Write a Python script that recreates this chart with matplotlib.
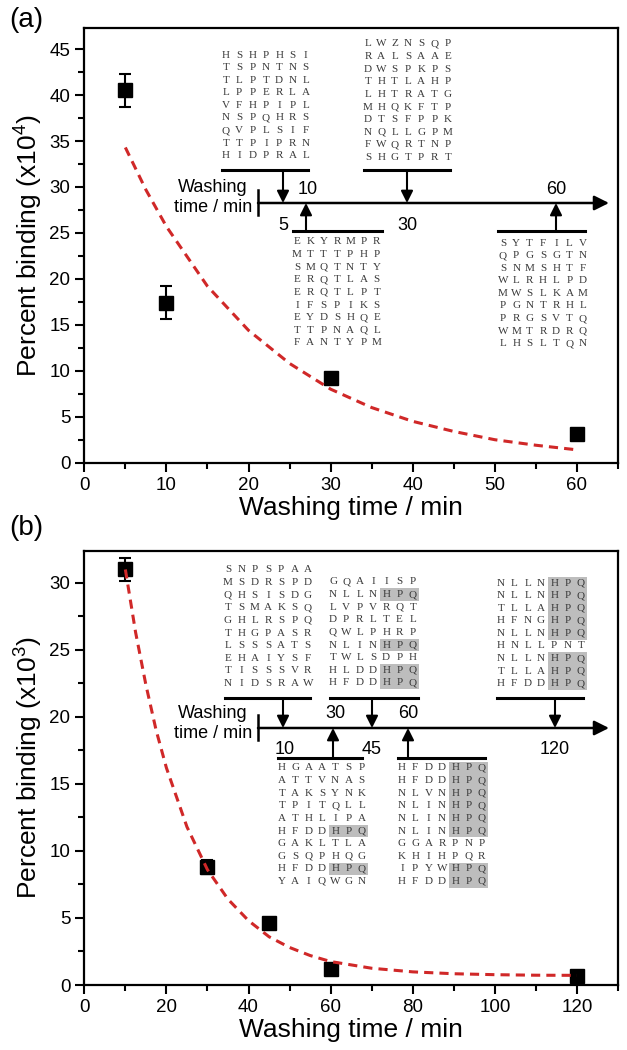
import matplotlib
matplotlib.use("Agg")
import matplotlib.pyplot as plt
import matplotlib.transforms as mtransforms
from matplotlib.patches import Rectangle, FancyArrowPatch
from matplotlib.lines import Line2D

plt.rcParams['font.family'] = ['Liberation Sans', 'DejaVu Sans']
plt.rcParams['mathtext.fontset'] = 'custom'
plt.rcParams['mathtext.rm'] = 'Liberation Sans'
plt.rcParams['mathtext.it'] = 'Liberation Sans'

# ---- panel (a) data ----
a_time = [5, 10, 30, 60]
a_binding = [40.5, 17.4, 9.2, 3.1]
a_err = [1.8, 1.8, 0.5, 0.6]
a_fit_time = [5, 7.5, 10, 15, 20, 25, 30, 35, 40, 45, 50, 55, 60]
a_fit_binding = [34.3, 29.7, 25.7, 19.2, 14.4, 10.8, 8.0, 6.0, 4.5, 3.4, 2.5, 1.9, 1.4]

# ---- panel (b) data ----
b_time = [10, 30, 45, 60, 120]
b_binding = [31.0, 8.8, 4.6, 1.2, 0.7]
b_err = [0.85, 0.5, 0.3, 0.3, 0.3]
b_fit_time = [10, 12.5, 15, 17.5, 20, 25, 30, 35, 40, 45, 50, 55, 60, 70, 80, 90, 100, 110, 120]
b_fit_binding = [31.0, 26.3, 22.4, 19.0, 16.2, 11.8, 8.6, 6.4, 4.8, 3.6, 2.8, 2.2, 1.75,
                 1.25, 0.98, 0.84, 0.77, 0.73, 0.72]

# ---- peptide sequences ----
a_seq_5 = ["HSHPHSI", "TSPNTNS", "TLPTDNL", "LPPERLA", "VFHPIPL",
           "NSPQHRS", "QVPLSIF", "TTPIPRN", "HIDPRAL"]
a_seq_10 = ["EKYRMPR", "MTTTPHP", "SMQTNTY", "ERQTLAS", "ERQTLPT",
            "IFSPIKS", "EYDSHQE", "TTPNAQL", "FANTYPM"]
a_seq_30 = ["LWZNSQP", "RALSAAE", "DWSPKPS", "THTLAHP", "LHTRATG",
            "MHQKFTP", "DTSFPPK", "NQLLGPM", "FWQRTNP", "SHGTPRT"]
a_seq_60 = ["SYTFILV", "QPGSGTN", "SNMSHTF", "WLRHLPD", "MWSLKAM",
            "PGNTRHL", "PRGSVTQ", "WMTRDRQ", "LHSLTQN"]

b_seq_10 = ["SNPSPAA", "MSDRSPD", "QHSISDG", "TSMAKSQ", "GHLRSPQ",
            "THGPASR", "LSSSATS", "EHAIYSF", "TISSSVR", "NIDSRAW"]
b_seq_30 = ["HGAATSP", "ATTVNAS", "TAKSYNK", "TPITQLL", "ATHLIPA",
            "HFDDHPQ", "GAKLTLA", "GSQPHQG", "HFDDHPQ", "YAIQWGN"]
b_seq_45 = ["GQAIISP", "NLLNHPQ", "LVPVRQT", "DPRLTEL", "QWLPHRP",
            "NLINHPQ", "TWLSDPH", "HLDDHPQ", "HFDDHPQ"]
b_seq_60 = ["HFDDHPQ", "HFDDHPQ", "NLVNHPQ", "NLINHPQ", "NLINHPQ",
            "NLINHPQ", "GGARPNP", "KHIHPQR", "IPYWHPQ", "HFDDHPQ"]
b_seq_120 = ["NLLNHPQ", "NLLNHPQ", "TLLAHPQ", "HFNGHPQ", "NLLNHPQ",
             "HNLLPNT", "NLLNHPQ", "TLLAHPQ", "HFDDHPQ"]
motif = "HPQ"

W, H = 627, 1050
fig = plt.figure(figsize=(W / 100, H / 100), dpi=100)
# transform for placing the schematic in figure pixels (origin top-left)
px = mtransforms.Affine2D().scale(1 / W, -1 / H).translate(0, 1) + fig.transFigure

red = '#d02828'
DX, DY = 13.3, 12.6


def style_axes(ax, xmaj, xmin, ymaj, ymin):
    for s in ax.spines.values():
        s.set_linewidth(1.6)
    ax.xaxis.set_major_locator(plt.MultipleLocator(xmaj))
    ax.xaxis.set_minor_locator(plt.MultipleLocator(xmin))
    ax.yaxis.set_major_locator(plt.MultipleLocator(ymaj))
    ax.yaxis.set_minor_locator(plt.MultipleLocator(ymin))
    ax.tick_params(which='major', direction='out', length=6.5, width=1.5, labelsize=13.5)
    ax.tick_params(which='minor', direction='out', length=4, width=1.5)
    ax.tick_params(top=False, right=False, which='both')


def block(rows, x0, y0, highlight=False):
    for i, row in enumerate(rows):
        y = y0 + i * DY
        if highlight and row.endswith(motif):
            k = len(row) - len(motif)
            fig.add_artist(Rectangle((x0 + (k - 0.5) * DX, y - DY / 2), len(motif) * DX, DY,
                                     transform=px, facecolor='#bdbdbd', edgecolor='none', zorder=1))
        for j, ch in enumerate(row):
            fig.text(x0 + j * DX, y, ch, transform=px, ha='center', va='center',
                     family='Liberation Serif', fontsize=8, color='#3a3a3a', zorder=2)


def bar(xa, xb, y):
    fig.add_artist(Line2D([xa, xb], [y, y], transform=px, color='k', lw=2.2))


def arrow(x, y_from, y_to):
    fig.add_artist(FancyArrowPatch((x, y_from), (x, y_to), transform=px, arrowstyle='-|>',
                                   mutation_scale=18, lw=1.5, color='k', shrinkA=0, shrinkB=0))


def timeline(y, labels_up, labels_down):
    fig.text(213, y - 15, "Washing", transform=px, ha='center', va='center', fontsize=13)
    fig.text(213, y + 5, "time / min", transform=px, ha='center', va='center', fontsize=13)
    fig.add_artist(Line2D([258, 258], [y - 13, y + 12], transform=px, color='k', lw=1.8))
    fig.add_artist(FancyArrowPatch((258, y), (609, y), transform=px, arrowstyle='-|>',
                                   mutation_scale=22, lw=1.8, color='k', shrinkA=0, shrinkB=0))
    for x, t in labels_up:
        fig.text(x, y - 14, t, transform=px, ha='center', va='center', fontsize=13)
    for x, t in labels_down:
        fig.text(x, y + 22, t, transform=px, ha='center', va='center', fontsize=13)


# ---------------- panel (a) ----------------
ax_a = fig.add_axes([84.3 / W, 1 - 462.7 / H, (618 - 84.3) / W, (462.7 - 28) / H])
ax_a.errorbar(a_time, a_binding, yerr=a_err, fmt='s', color='k', ms=10, capsize=4.5,
              elinewidth=1.5, capthick=1.5, zorder=3)
ax_a.plot(a_fit_time, a_fit_binding, color=red, lw=2.2, linestyle=(0, (3, 2)), zorder=4)
ax_a.set_xlim(0, 65)
ax_a.set_ylim(0, 47.3)
style_axes(ax_a, 10, 5, 5, 2.5)
ax_a.set_xlabel("Washing time / min", fontsize=19, labelpad=1.5)
ax_a.set_ylabel("Percent binding (x10$^4$)", fontsize=19, labelpad=3)
fig.text(26, 20, "(a)", transform=px, ha='center', va='center', fontsize=20)

block(a_seq_5, 226, 55)
block(a_seq_30, 368, 44)
block(a_seq_10, 297, 242)
block(a_seq_60, 503, 243)
bar(222, 308, 170)
bar(364, 450, 170)
bar(293, 382, 231)
bar(498, 585, 231)
arrow(283, 170, 203)
arrow(407, 170, 203)
arrow(306, 231, 203)
arrow(556, 231, 203)
timeline(203, [(308, "10"), (556, "60")], [(283, "5"), (407, "30")])

# ---------------- panel (b) ----------------
ax_b = fig.add_axes([84.3 / W, 1 - 985 / H, (618 - 84.3) / W, (985 - 550.7) / H])
ax_b.errorbar(b_time, b_binding, yerr=b_err, fmt='s', color='k', ms=10, capsize=4.5,
              elinewidth=1.5, capthick=1.5, zorder=3)
ax_b.plot(b_fit_time, b_fit_binding, color=red, lw=2.2, linestyle=(0, (3, 2)), zorder=4)
ax_b.set_xlim(0, 130)
ax_b.set_ylim(0, 32.4)
style_axes(ax_b, 20, 10, 5, 2.5)
ax_b.set_xlabel("Washing time / min", fontsize=19, labelpad=1.5)
ax_b.set_ylabel("Percent binding (x10$^3$)", fontsize=19, labelpad=3)
fig.text(26, 528, "(b)", transform=px, ha='center', va='center', fontsize=20)

block(b_seq_10, 228, 570, True)
block(b_seq_45, 333, 582, True)
block(b_seq_120, 501, 583, True)
block(b_seq_30, 282, 768, True)
block(b_seq_60, 402, 768, True)
bar(225, 310, 698)
bar(330, 418, 698)
bar(497, 583, 698)
bar(278, 362, 758)
bar(398, 485, 758)
arrow(283, 698, 728)
arrow(372, 698, 728)
arrow(555, 698, 728)
arrow(333, 758, 728)
arrow(408, 758, 728)
timeline(728, [(335, "30"), (408, "60")], [(285, "10"), (372, "45"), (555, "120")])

fig.savefig("out.png", dpi=100)
